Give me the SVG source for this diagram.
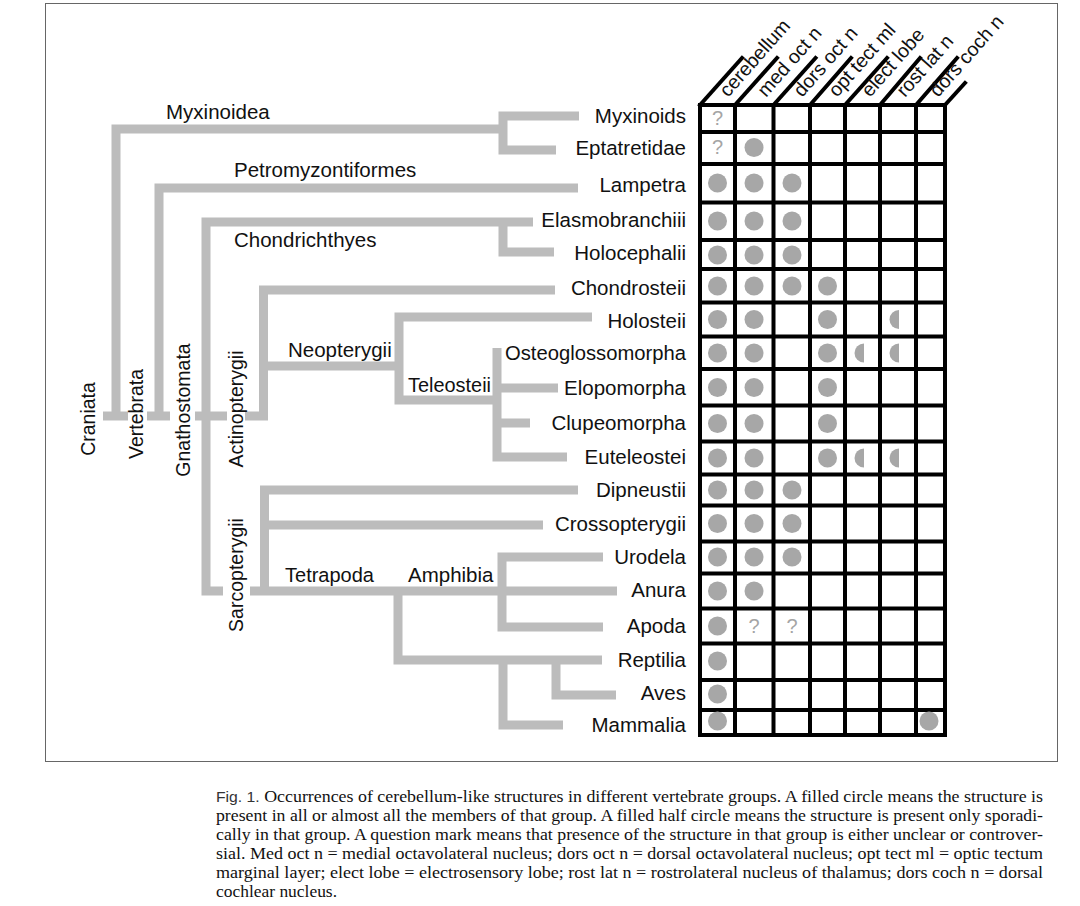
<svg xmlns="http://www.w3.org/2000/svg" width="1080" height="906" viewBox="0 0 1080 906">
<defs>
<style>
.t{font-family:"Liberation Sans",Arial,sans-serif;font-size:20.5px;fill:#111}
.v{font-family:"Liberation Sans",Arial,sans-serif;font-size:19.5px;fill:#111;text-anchor:middle}
.h{font-family:"Liberation Sans",Arial,sans-serif;font-size:19.5px;fill:#111}
.r{text-anchor:end}
.br{fill:none;stroke:#bcbcbc;stroke-width:9;stroke-linejoin:miter;stroke-linecap:butt}
.g{fill:none;stroke:#000;stroke-width:4;stroke-linecap:square}
.d{fill:#a7a7a7}
.q{font-family:"Liberation Sans",Arial,sans-serif;font-size:20px;fill:#a5a5a5;text-anchor:middle}
.cap{font-family:"Liberation Serif","Times New Roman",serif;font-size:16.5px;fill:#111}
.fig{font-family:"Liberation Sans",Arial,sans-serif;font-size:14.5px;fill:#333}
</style>
<circle id="dot" r="9.5" class="d"/>
<path id="half" d="M0,-9.5 A9.5,9.5 0 0 0 0,9.5 Z" class="d"/>
</defs>
<rect x="0" y="0" width="1080" height="906" fill="#fff"/>
<rect x="45.5" y="3.5" width="1012" height="758" fill="none" stroke="#666" stroke-width="1"/>

<g id="connectors">
<path class="br" d="M116,420 V129 H503"/>
<path class="br" d="M579,116 H503 V150 H556"/>
<path class="br" d="M103,416 H128"/>
<path class="br" d="M159,420 V188 H578"/>
<path class="br" d="M147,416 H170"/>
<path class="br" d="M223,591 H206 V222 H533"/>
<path class="br" d="M503,222 V252 H554"/>
<path class="br" d="M195,416 H227"/>
<path class="br" d="M245,416 H263.5 V290 H555"/>
<path class="br" d="M263.5,366 H399"/>
<path class="br" d="M592,317 H399 V400 H497"/>
<path class="br" d="M497,348 V457 H567"/>
<path class="br" d="M497,388 H558"/>
<path class="br" d="M497,423 H530"/>
<path class="br" d="M250,591 H617"/>
<path class="br" d="M264.5,591 V490 H578"/>
<path class="br" d="M264.5,525 H543"/>
<path class="br" d="M603,557 H502 V627 H603"/>
<path class="br" d="M398,591 V660 H602"/>
<path class="br" d="M503,660 V725 H563"/>
<path class="br" d="M556,660 V695 H616"/>
</g>

<g id="clade-labels">
<text class="t" x="166" y="119">Myxinoidea</text>
<text class="t" x="234" y="177">Petromyzontiformes</text>
<text class="t" x="234" y="247">Chondrichthyes</text>
<text class="t" x="288" y="357">Neopterygii</text>
<text class="t" x="408" y="392" textLength="83" lengthAdjust="spacingAndGlyphs">Teleosteii</text>
<text class="t" x="285" y="582" textLength="89" lengthAdjust="spacingAndGlyphs">Tetrapoda</text>
<text class="t" x="408" y="582">Amphibia</text>
<text class="v" transform="translate(95,419) rotate(-90)">Craniata</text>
<text class="v" transform="translate(143,414) rotate(-90)">Vertebrata</text>
<text class="v" transform="translate(190,410) rotate(-90)">Gnathostomata</text>
<text class="v" transform="translate(243,409) rotate(-90)">Actinopterygii</text>
<text class="v" transform="translate(243,575) rotate(-90)">Sarcopterygii</text>
</g>

<g id="taxa" class="t r">
<text x="686" y="123">Myxinoids</text>
<text x="686" y="155">Eptatretidae</text>
<text x="686" y="192">Lampetra</text>
<text x="686" y="227">Elasmobranchiii</text>
<text x="686" y="260">Holocephalii</text>
<text x="686" y="295">Chondrosteii</text>
<text x="686" y="328">Holosteii</text>
<text x="686" y="360" textLength="181" lengthAdjust="spacingAndGlyphs">Osteoglossomorpha</text>
<text x="686" y="395">Elopomorpha</text>
<text x="686" y="430">Clupeomorpha</text>
<text x="686" y="464">Euteleostei</text>
<text x="686" y="497">Dipneustii</text>
<text x="686" y="531">Crossopterygii</text>
<text x="686" y="564">Urodela</text>
<text x="686" y="597">Anura</text>
<text x="686" y="633">Apoda</text>
<text x="686" y="667">Reptilia</text>
<text x="686" y="700">Aves</text>
<text x="686" y="732">Mammalia</text>
</g>

<g id="header">
<g class="g">
<line x1="700" y1="105" x2="742" y2="58"/>
<line x1="735" y1="105" x2="777" y2="58"/>
<line x1="773.5" y1="105" x2="815.5" y2="58"/>
<line x1="810" y1="105" x2="851" y2="58"/>
<line x1="845" y1="105" x2="887" y2="58"/>
<line x1="880" y1="105" x2="920" y2="58"/>
<line x1="916" y1="105" x2="957" y2="58"/>
<line x1="945" y1="105" x2="965" y2="83"/>
</g>
<g class="h">
<text transform="translate(728,98) rotate(-48.5)">cerebellum</text>
<text transform="translate(766,98) rotate(-48.5)">med oct n</text>
<text transform="translate(802,98) rotate(-48.5)">dors oct n</text>
<text transform="translate(837,98) rotate(-48.5)">opt tect ml</text>
<text transform="translate(870,98) rotate(-48.5)">elect lobe</text>
<text transform="translate(905,98) rotate(-48.5)">rost lat n</text>
<text transform="translate(938,98) rotate(-48.5)">dors coch n</text>
</g>
</g>

<g id="grid" class="g">
<path d="M700,105 H945 M700,132 H945 M700,164 H945 M700,202.5 H945 M700,240 H945 M700,269 H945 M700,302.5 H945 M700,336.5 H945 M700,369 H945 M700,405.5 H945 M700,441.5 H945 M700,474.5 H945 M700,505.5 H945 M700,541.5 H945 M700,573.5 H945 M700,608.5 H945 M700,643.5 H945 M700,680 H945 M700,710 H945 M700,735 H945"/>
<path d="M700,105 V735 M735,105 V735 M773.5,105 V735 M810,105 V735 M845,105 V735 M880,105 V735 M916,105 V735 M945,105 V735"/>
</g>

<g id="marks">
<text class="q" x="717.5" y="125">?</text>
<text class="q" x="717.5" y="154">?</text>
<use href="#dot" x="754" y="147.5"/>
<use href="#dot" x="717.5" y="183"/><use href="#dot" x="754" y="183"/><use href="#dot" x="792" y="183"/>
<use href="#dot" x="717.5" y="221"/><use href="#dot" x="754" y="221"/><use href="#dot" x="792" y="221"/>
<use href="#dot" x="717.5" y="255"/><use href="#dot" x="754" y="255"/><use href="#dot" x="792" y="255"/>
<use href="#dot" x="717.5" y="286"/><use href="#dot" x="754" y="286"/><use href="#dot" x="792" y="286"/><use href="#dot" x="827.5" y="286"/>
<use href="#dot" x="717.5" y="319.5"/><use href="#dot" x="754" y="319.5"/><use href="#dot" x="827.5" y="319.5"/><use href="#half" x="899" y="319.5"/>
<use href="#dot" x="717.5" y="353"/><use href="#dot" x="754" y="353"/><use href="#dot" x="827.5" y="353"/><use href="#half" x="864" y="353"/><use href="#half" x="899" y="353"/>
<use href="#dot" x="717.5" y="387.5"/><use href="#dot" x="754" y="387.5"/><use href="#dot" x="827.5" y="387.5"/>
<use href="#dot" x="717.5" y="423.5"/><use href="#dot" x="754" y="423.5"/><use href="#dot" x="827.5" y="423.5"/>
<use href="#dot" x="717.5" y="458"/><use href="#dot" x="754" y="458"/><use href="#dot" x="827.5" y="458"/><use href="#half" x="864" y="458"/><use href="#half" x="899" y="458"/>
<use href="#dot" x="717.5" y="490"/><use href="#dot" x="754" y="490"/><use href="#dot" x="792" y="490"/>
<use href="#dot" x="717.5" y="523.5"/><use href="#dot" x="754" y="523.5"/><use href="#dot" x="792" y="523.5"/>
<use href="#dot" x="717.5" y="557"/><use href="#dot" x="754" y="557"/><use href="#dot" x="792" y="557"/>
<use href="#dot" x="717.5" y="591"/><use href="#dot" x="754" y="591"/>
<use href="#dot" x="717.5" y="626"/>
<text class="q" x="754" y="633">?</text>
<text class="q" x="792" y="633">?</text>
<use href="#dot" x="717.5" y="661"/>
<use href="#dot" x="717.5" y="694"/>
<use href="#dot" x="717.5" y="721"/><use href="#dot" x="929" y="721"/>
</g>

<g id="caption" class="cap">
<text x="216" y="802" textLength="827" lengthAdjust="spacingAndGlyphs"><tspan class="fig">Fig. 1.</tspan> Occurrences of cerebellum-like structures in different vertebrate groups. A filled circle means the structure is</text>
<text x="216" y="821" textLength="827" lengthAdjust="spacingAndGlyphs">present in all or almost all the members of that group. A filled half circle means the structure is present only sporadi-</text>
<text x="216" y="840" textLength="827" lengthAdjust="spacingAndGlyphs">cally in that group. A question mark means that presence of the structure in that group is either unclear or controver-</text>
<text x="216" y="859" textLength="827" lengthAdjust="spacingAndGlyphs">sial. Med oct n = medial octavolateral nucleus; dors oct n = dorsal octavolateral nucleus; opt tect ml = optic tectum</text>
<text x="216" y="878" textLength="827" lengthAdjust="spacingAndGlyphs">marginal layer; elect lobe = electrosensory lobe; rost lat n = rostrolateral nucleus of thalamus; dors coch n = dorsal</text>
<text x="216" y="897" textLength="121" lengthAdjust="spacingAndGlyphs">cochlear nucleus.</text>
</g>
</svg>
